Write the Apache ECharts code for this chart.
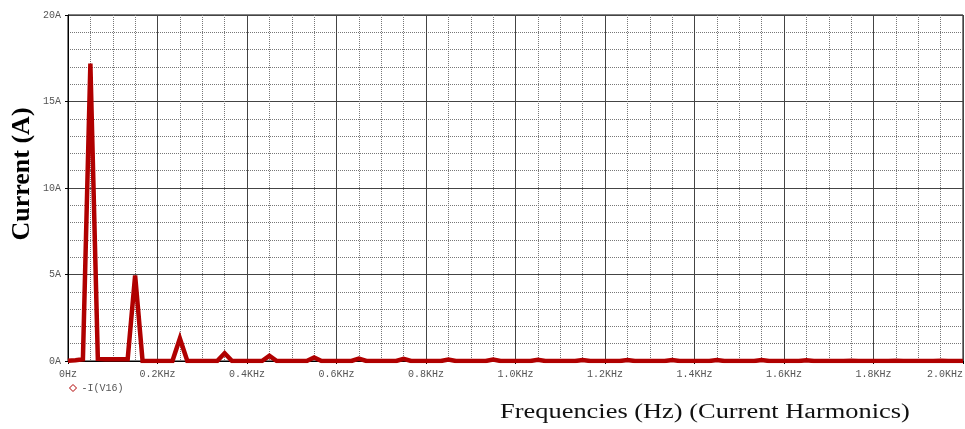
<!DOCTYPE html>
<html>
<head>
<meta charset="utf-8">
<title>Current Harmonics</title>
<script src="https://cdn.jsdelivr.net/npm/echarts@6/dist/echarts.min.js"></script>
<style>
  html, body { margin: 0; padding: 0; background: #fff; }
  #chart { width: 965px; height: 429px; }
</style>
</head>
<body>
<div id="chart"></div>
<script>
// FFT bin spacing of the current spectrum (Hz)
const binHz = 50 / 3;

// Magnitude of -I(V16) per FFT bin, 0 Hz .. 2 kHz (A)
const currentA = [
  0.02, 0.05, 0.10, 17.20, 0.12, 0.10, 0.10, 0.10, 0.10, 4.95,
  0.00, 0.00, 0.00, 0.00, 0.00, 1.30, 0.00, 0.00, 0.00, 0.00,
  0.00, 0.45, 0.00, 0.00, 0.00, 0.00, 0.00, 0.30, 0.00, 0.00,
  0.00, 0.00, 0.00, 0.20, 0.00, 0.00, 0.00, 0.00, 0.00, 0.14,
  0.00, 0.00, 0.00, 0.00, 0.00, 0.12, 0.00, 0.00, 0.00, 0.00,
  0.00, 0.09, 0.00, 0.00, 0.00, 0.00, 0.00, 0.08, 0.00, 0.00,
  0.00, 0.00, 0.00, 0.07, 0.00, 0.00, 0.00, 0.00, 0.00, 0.06,
  0.00, 0.00, 0.00, 0.00, 0.00, 0.06, 0.00, 0.00, 0.00, 0.00,
  0.00, 0.05, 0.00, 0.00, 0.00, 0.00, 0.00, 0.05, 0.00, 0.00,
  0.00, 0.00, 0.00, 0.05, 0.00, 0.00, 0.00, 0.00, 0.00, 0.04,
  0.00, 0.00, 0.00, 0.00, 0.00, 0.02, 0.00, 0.00, 0.00, 0.00,
  0.00, 0.02, 0.00, 0.00, 0.00, 0.00, 0.00, 0.01, 0.00, 0.00,
  0.00
];

// Axis ranges and tick steps
const freqMax = 2000, freqStep = 200;
const ampMax = 20, ampStep = 5;

const seriesName = '-I(V16)';
const xTitle = 'Frequencies (Hz) (Current Harmonics)';
const yTitle = 'Current (A)';

const points = currentA.map((v, i) => [i * binHz, v]);

const monoLabel = {
  fontFamily: 'Liberation Mono',
  fontSize: 10,
  color: '#555'
};

const chart = echarts.init(document.getElementById('chart'), null, { renderer: 'canvas' });

chart.setOption({
  animation: false,
  backgroundColor: '#fff',
  grid: {
    left: 68, right: 2, top: 15, bottom: 68,
    containLabel: false,
    outerBoundsMode: 'none',
    show: true, borderColor: '#000', borderWidth: 1
  },
  legend: {
    left: 64, top: 378,
    icon: 'diamond',
    itemWidth: 7, itemHeight: 7,
    itemGap: 4,
    itemStyle: { color: '#fff', borderColor: '#b00000', borderWidth: 1 },
    textStyle: monoLabel,
    data: [seriesName]
  },
  xAxis: {
    type: 'value',
    min: 0, max: freqMax, interval: freqStep,
    axisLine: { show: true, lineStyle: { color: '#000', width: 1 } },
    axisTick: { show: true, length: 3, lineStyle: { color: '#000' } },
    axisLabel: Object.assign({}, monoLabel, {
      margin: 8,
      showMaxLabel: true,
      alignMaxLabel: 'right',
      formatter: v => v === 0 ? '0Hz' : (v / 1000).toFixed(1) + 'KHz'
    }),
    splitLine: { show: true, lineStyle: { color: '#444', width: 1 } },
    minorTick: { show: false, splitNumber: 4 },
    minorSplitLine: { show: true, lineStyle: { color: '#777', width: 1, type: 'dotted' } }
  },
  yAxis: {
    type: 'value',
    min: 0, max: ampMax, interval: ampStep,
    axisLine: { show: true, lineStyle: { color: '#000', width: 1 } },
    axisTick: { show: true, length: 3, lineStyle: { color: '#000' } },
    axisLabel: Object.assign({}, monoLabel, {
      margin: 7,
      formatter: v => v + 'A'
    }),
    splitLine: { show: true, lineStyle: { color: '#444', width: 1 } },
    minorTick: { show: false, splitNumber: 5 },
    minorSplitLine: { show: true, lineStyle: { color: '#777', width: 1, type: 'dotted' } }
  },
  graphic: [{
    type: 'text',
    x: 705, y: 413,
    scaleX: 1.32,
    style: {
      text: xTitle,
      fontFamily: 'Liberation Serif',
      fontSize: 20,
      fill: '#111',
      align: 'center',
      verticalAlign: 'middle'
    }
  }, {
    type: 'text',
    x: 22, y: 174,
    rotation: Math.PI / 2,
    style: {
      text: yTitle,
      fontFamily: 'Liberation Serif',
      fontWeight: 'bold',
      fontSize: 26,
      fill: '#000',
      align: 'center',
      verticalAlign: 'middle'
    }
  }],
  series: [{
    name: seriesName,
    type: 'line',
    data: points,
    showSymbol: false,
    symbol: 'diamond',
    lineStyle: { color: '#b00000', width: 4.5, join: 'miter' },
    itemStyle: { color: '#b00000' },
    z: 5
  }]
});
</script>
</body>
</html>
